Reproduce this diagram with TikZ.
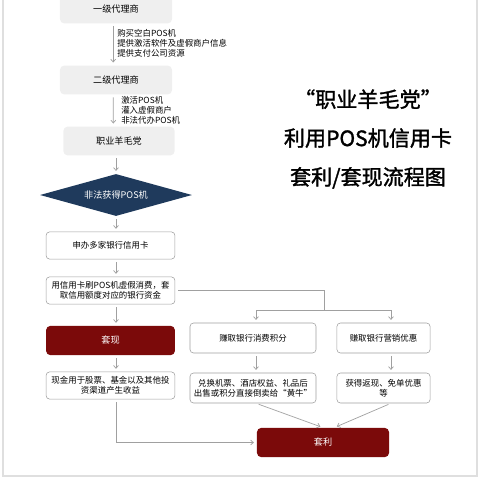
\documentclass[tikz,border=0pt]{standalone}
\usepackage{fontspec}
\setmainfont{Noto Sans CJK SC}
\newfontfamily\titlefont[FakeBold=1.5]{Noto Sans CJK SC}
\usetikzlibrary{shapes.geometric,arrows.meta}
\definecolor{boxgray}{HTML}{EFEFEF}
\definecolor{linegray}{HTML}{A0A0A0}
\definecolor{darkred}{HTML}{7B0A0A}
\definecolor{navy}{HTML}{1F3A5C}
\begin{document}
\begin{tikzpicture}[x=0.025cm, y=-0.025cm, font=\fontsize{6}{7.1}\selectfont,
    >={Straight Barb[length=2pt,width=3.5pt]},
    agent/.style={fill=boxgray, rounded corners=3pt, minimum width=2.8cm, minimum height=0.72cm, font=\fontsize{6.5}{7.5}\selectfont},
    plain/.style={draw=linegray, fill=white, rounded corners=2.5pt, minimum width=3.22cm, minimum height=0.68cm, align=center, inner sep=1pt},
    result/.style={fill=darkred, text=white, rounded corners=3pt, minimum height=0.73cm, font=\fontsize{6.5}{7.5}\selectfont},
    link/.style={draw=linegray, line width=0.5pt, shorten <=2pt, shorten >=2pt},
    note/.style={anchor=west, align=left, inner sep=0pt}]
    \useasboundingbox (0,0) rectangle (480,480);
    \draw[gray!25, line width=0.8pt] (3,-2) -- (3,476) -- (477,476) -- (477,-2);

    \node (agent1) [agent] at (116,9) {一级代理商}; \node (agent2) [agent] at (116,80) {二级代理商}; \node (farmer) [agent, minimum width=2.78cm] at (119,141) {职业羊毛党};
    \node (illegal) [diamond, aspect=3.6, fill=navy, text=white, minimum width=3.8cm, minimum height=1.05cm, inner sep=0pt, font=\fontsize{6.5}{7.5}\selectfont] at (116,195) {非法获得POS机};
    \node (apply) [plain] at (110.5,245.5) {申办多家银行信用卡}; \node (swipe) [plain] at (110.5,290.5) {用信用卡刷POS机虚假消费，套\\取信用额度对应的银行资金};
    \node (cashout) [result, minimum width=3.22cm] at (110.5,340.5) {套现}; \node (invest) [plain] at (110.5,385.5) {现金用于股票、基金以及其他投\\资渠道产生收益};
    \node (points) [plain, minimum width=3.15cm, minimum height=0.75cm] at (253,338) {赚取银行消费积分}; \node (promo) [plain, minimum width=2.33cm, minimum height=0.75cm] at (383.5,338) {赚取银行营销优惠};
    \node (redeem) [plain, minimum width=3.15cm, minimum height=0.75cm] at (253,388) {兑换机票、酒店权益、礼品后\\出售或积分直接倒卖给“黄牛”}; \node (rebate) [plain, minimum width=2.33cm, minimum height=0.75cm] at (383.5,388) {获得返现、免单优惠\\等};
    \node (arbitrage) [result, minimum width=3.3cm] at (323,442.5) {套利};
    \node (buy) [note] at (117,43) {购买空白POS机\\提供激活软件及虚假商户信息\\提供支付公司资源}; \node (activate) [note] at (121,110) {激活POS机\\灌入虚假商户\\非法代办POS机};
    \node (title) [align=center, font=\fontsize{15}{27.6}\titlefont] at (368,139) {“职业羊毛党”\\利用POS机信用卡\\套利/套现流程图};
    \coordinate (fork) at (324,310); \coordinate (forkL) at (256,310); \coordinate (forkR) at (391,310);

    \draw[link, ->] ([xshift=-2pt]agent1.south) -- ([xshift=-2pt]agent2.north); \draw[link, ->] ([xshift=-2pt]agent2.south) -- ([xshift=-4pt]farmer.north);
    \draw[link, ->] (illegal.north |- farmer.south) -- (illegal.north); \draw[link, ->] (illegal.south) -- (illegal.south |- apply.north);
    \draw[link, ->] (illegal.south |- apply.south) -- (illegal.south |- swipe.north); \draw[link, ->] (illegal.south |- swipe.south) -- (illegal.south |- cashout.north);
    \draw[link, ->] (illegal.south |- cashout.south) -- (illegal.south |- invest.north); \draw[link, ->] (illegal.south |- invest.south) |- (arbitrage.west);
    \draw[link, shorten >=0pt] (swipe.east) -| (fork); \draw[link, shorten <=0pt, shorten >=0pt] (forkL) -- (forkR);
    \draw[link, ->, shorten <=0pt] (forkL) -- (forkL |- points.north); \draw[link, ->, shorten <=0pt] (forkR) -- (forkR |- promo.north);
    \draw[link, ->] (forkL |- points.south) -- (forkL |- redeem.north); \draw[link, ->] (forkR |- promo.south) -- (forkR |- rebate.north);
    \draw[link, ->] (forkL |- redeem.south) -- (arbitrage.north); \draw[link, ->] (forkR |- rebate.south) -- ([xshift=8pt]arbitrage.north);
\end{tikzpicture}
\end{document}
